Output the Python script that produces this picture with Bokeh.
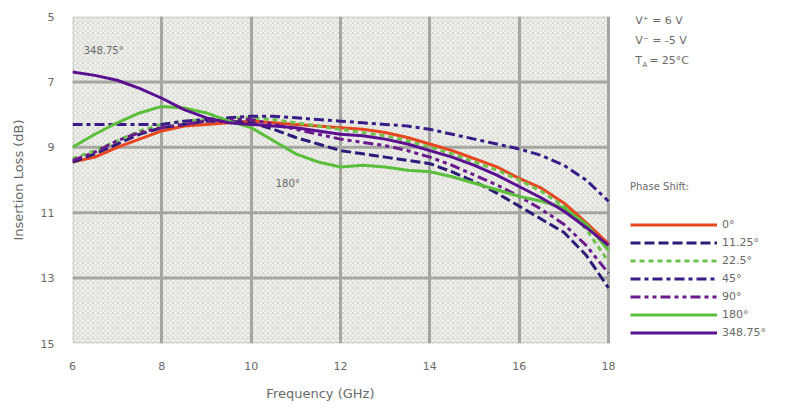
from bokeh.plotting import figure
from bokeh.models import (Range1d, FixedTicker, Legend, LegendItem, Label,
                          BoxAnnotation, LinearAxis)
from bokeh.embed import file_html
from bokeh.resources import INLINE

# ---- data ----
freq = [6, 6.5, 7, 7.5, 8, 8.5, 9, 9.5, 10, 10.5, 11, 11.5, 12, 12.5, 13,
        13.5, 14, 14.5, 15, 15.5, 16, 16.5, 17, 17.5, 18]
loss_0 = [9.45, 9.3, 9.0, 8.75, 8.5, 8.35, 8.3, 8.25, 8.2, 8.25, 8.3, 8.35, 8.4,
          8.45, 8.55, 8.7, 8.9, 9.1, 9.35, 9.6, 9.95, 10.25, 10.7, 11.3, 11.95]
loss_11_25 = [9.45, 9.2, 8.9, 8.6, 8.4, 8.3, 8.2, 8.2, 8.25, 8.45, 8.7, 8.9, 9.1,
              9.2, 9.3, 9.4, 9.5, 9.75, 10.05, 10.4, 10.8, 11.2, 11.6, 12.3, 13.3]
loss_22_5 = [9.35, 9.1, 8.8, 8.5, 8.3, 8.2, 8.15, 8.1, 8.1, 8.15, 8.25, 8.35, 8.45,
             8.55, 8.65, 8.8, 9.0, 9.2, 9.45, 9.7, 10.0, 10.35, 10.8, 11.5, 12.5]
loss_45 = [8.3, 8.3, 8.3, 8.3, 8.3, 8.2, 8.15, 8.1, 8.05, 8.05, 8.1, 8.15, 8.2,
           8.25, 8.3, 8.35, 8.45, 8.6, 8.75, 8.9, 9.05, 9.25, 9.55, 10.0, 10.65]
loss_90 = [9.4, 9.15, 8.8, 8.55, 8.4, 8.3, 8.2, 8.15, 8.15, 8.3, 8.45, 8.6, 8.75,
           8.85, 8.95, 9.1, 9.3, 9.55, 9.85, 10.15, 10.5, 10.9, 11.35, 12.0, 12.85]
loss_180 = [9.0, 8.6, 8.25, 7.95, 7.75, 7.8, 7.95, 8.2, 8.4, 8.8, 9.2, 9.45, 9.6,
            9.55, 9.6, 9.7, 9.75, 9.9, 10.1, 10.3, 10.5, 10.65, 10.85, 11.35, 12.15]
loss_348_75 = [6.7, 6.8, 6.95, 7.2, 7.5, 7.85, 8.1, 8.25, 8.3, 8.35, 8.4, 8.5, 8.6,
               8.65, 8.75, 8.9, 9.1, 9.3, 9.55, 9.85, 10.2, 10.55, 10.95, 11.45, 12.0]

series_names = ["0°", "11.25°", "22.5°", "45°", "90°", "180°", "348.75°"]
series_values = [loss_0, loss_11_25, loss_22_5, loss_45, loss_90, loss_180, loss_348_75]
x_ticks = [6, 8, 10, 12, 14, 16, 18]
y_ticks = [5, 7, 9, 11, 13, 15]
x_title = "Frequency (GHz)"
x_title_pos = 11.55   # GHz position the x-axis title is centred on

colors = ["#e8461e", "#2e1a78", "#6cc24a", "#3a1c88", "#6a1a8c", "#5cbf3c", "#5a1090"]
dashes = ["solid", "10 4", "5 4", "10 4 4 4", "10 4 4 4 4 4", "solid", "solid"]
FONT = "DejaVu Sans"
TXT = "#6a6a6a"
GRID = "#a6a6a0"

# The frame is widened to the right so the legend and notes sit inside it;
# the chart area itself spans 6-18 GHz (536 px).
FRAME_W = 710
x_end = x_ticks[0] + (x_ticks[-1] - x_ticks[0]) * FRAME_W / 536

p = figure(frame_width=FRAME_W, frame_height=327, output_backend="svg",
           toolbar_location=None, x_range=Range1d(x_ticks[0], x_end),
           y_range=Range1d(y_ticks[-1], y_ticks[0]),
           min_border_left=72, min_border_right=0, min_border_top=16,
           min_border_bottom=60)
p.background_fill_color = "white"
p.border_fill_color = "white"
p.outline_line_color = None

bg = BoxAnnotation(left=x_ticks[0], right=x_ticks[-1], top=y_ticks[0], bottom=y_ticks[-1],
                   fill_color="#efefeb", fill_alpha=1.0, line_color=GRID, line_width=3,
                   hatch_pattern="diagonal_cross", hatch_color="#d2d2cc",
                   hatch_scale=5, hatch_weight=0.8, level="image")
p.add_layout(bg)

p.xgrid.grid_line_color = GRID
p.xgrid.grid_line_width = 3
p.xgrid.bounds = (x_ticks[0], x_ticks[-1])
p.ygrid.visible = False
inner_y = y_ticks[1:-1]
p.segment(x0=[x_ticks[0]] * len(inner_y), x1=[x_ticks[-1]] * len(inner_y),
          y0=inner_y, y1=inner_y, line_color=GRID, line_width=3, level="underlay")

p.xaxis.ticker = FixedTicker(ticks=x_ticks)
p.yaxis.ticker = FixedTicker(ticks=y_ticks)
p.xaxis.bounds = (x_ticks[0], x_ticks[-1])
for ax in (p.xaxis, p.yaxis):
    ax.axis_line_color = None
    ax.major_tick_line_color = None
    ax.minor_tick_line_color = None
    ax.major_label_text_font = FONT
    ax.major_label_text_font_size = "11px"
    ax.major_label_text_color = TXT
    ax.axis_label_text_font = FONT
    ax.axis_label_text_font_size = "13px"
    ax.axis_label_text_font_style = "normal"
    ax.axis_label_text_color = TXT
p.yaxis.axis_label = "Insertion Loss (dB)"
p.xaxis.major_label_standoff = 12
p.yaxis.major_label_standoff = 12
p.yaxis.axis_label_standoff = 12

# x-axis title, centred under the 6-18 GHz chart area
title_axis = LinearAxis(ticker=FixedTicker(ticks=[x_title_pos]),
                        major_label_overrides={x_title_pos: x_title},
                        major_label_standoff=13, major_tick_in=0, major_tick_out=0,
                        axis_line_color=None, major_tick_line_color=None,
                        minor_tick_line_color=None,
                        major_label_text_font=FONT, major_label_text_font_size="13px",
                        major_label_text_color=TXT)
p.add_layout(title_axis, "below")

items = []
for name, vals, c, d in zip(series_names, series_values, colors, dashes):
    r = p.line(freq, vals, line_color=c, line_width=3, line_dash=d)
    items.append(LegendItem(label=name, renderers=[r]))

legend = Legend(items=items, location=(558, 2), title="Phase Shift:",
                glyph_width=87, glyph_height=17, label_height=17, spacing=1,
                label_standoff=5, padding=4, margin=0,
                background_fill_alpha=0, border_line_color=None,
                label_text_font=FONT, label_text_font_size="11px",
                label_text_color=TXT, title_text_font=FONT,
                title_text_font_size="10px", title_text_font_style="normal",
                title_text_color=TXT, title_standoff=24)
p.add_layout(legend)

def lab(x, y, t, size="11px"):
    p.add_layout(Label(x=x, y=y, text=t, text_font=FONT, text_font_size=size,
                       text_color=TXT, text_baseline="middle", text_align="left"))

# test conditions
lab(18.60, 5.12, "V⁺ = 6 V")
lab(18.60, 5.73, "V⁻ = -5 V")
lab(18.60, 6.35, "T")
lab(18.76, 6.47, "A", "7px")
lab(18.91, 6.35, "= 25°C")
# curve call-outs
lab(6.25, 6.05, "348.75°", "10px")
lab(10.55, 10.1, "180°", "10px")

open("out.html", "w").write(file_html(p, INLINE))
